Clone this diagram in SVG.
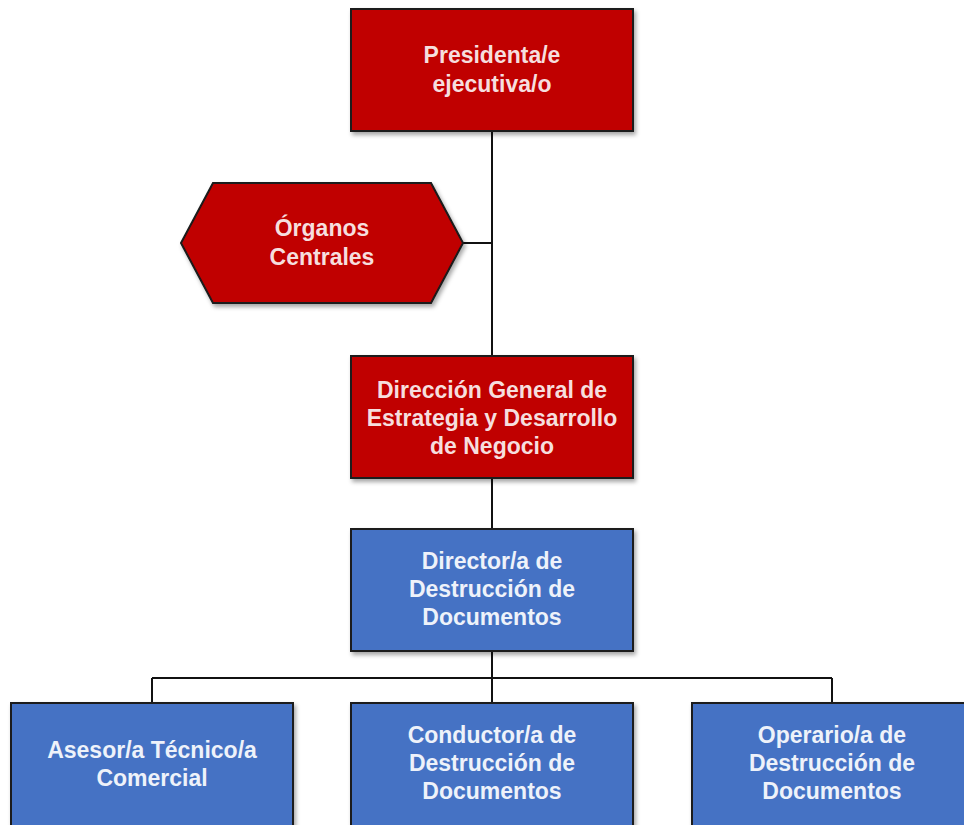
<svg xmlns="http://www.w3.org/2000/svg" width="964" height="825" viewBox="0 0 964 825">
<defs>
<filter id="sh" x="-10%" y="-10%" width="125%" height="130%">
<feDropShadow dx="2" dy="3" stdDeviation="2" flood-color="#000" flood-opacity="0.35"/>
</filter>
</defs>
<style>
.red{fill:#C00000;stroke:#1a1a1a;stroke-width:2;filter:url(#sh)}
.blue{fill:#4472C4;stroke:#1a1a1a;stroke-width:2;filter:url(#sh)}
.t{font-family:"Liberation Sans",Arial,sans-serif;font-size:23px;font-weight:bold;text-anchor:middle;dominant-baseline:central}
.tr{fill:#F6DEDE}
.tb{fill:#EEF2FA}
.c{fill:none;stroke:#111;stroke-width:2}
</style>
<rect width="964" height="825" fill="#fff"/>
<g id="connectors">
<path class="c" d="M492 131V356M463 243H492M492 478V529M492 651V703M152 678H832M152 678V703M832 678V703"/>
</g>
<g id="presidenta">
<rect class="red" x="351" y="9" width="282" height="122"/>
<text class="t tr" x="492" y="55">Presidenta/e</text>
<text class="t tr" x="492" y="84">ejecutiva/o</text>
</g>
<g id="organos">
<polygon class="red" points="181,243 213,183 431,183 463,243 431,303 213,303"/>
<text class="t tr" x="322" y="228">Órganos</text>
<text class="t tr" x="322" y="257">Centrales</text>
</g>
<g id="direccion">
<rect class="red" x="351" y="356" width="282" height="122"/>
<text class="t tr" x="492" y="390">Dirección General de</text>
<text class="t tr" x="492" y="418">Estrategia y Desarrollo</text>
<text class="t tr" x="492" y="446">de Negocio</text>
</g>
<g id="director">
<rect class="blue" x="351" y="529" width="282" height="122"/>
<text class="t tb" x="492" y="561">Director/a de</text>
<text class="t tb" x="492" y="589">Destrucción de</text>
<text class="t tb" x="492" y="617">Documentos</text>
</g>
<g id="asesor">
<rect class="blue" x="11" y="703" width="282" height="130"/>
<text class="t tb" x="152" y="750">Asesor/a Técnico/a</text>
<text class="t tb" x="152" y="778">Comercial</text>
</g>
<g id="conductor">
<rect class="blue" x="351" y="703" width="282" height="130"/>
<text class="t tb" x="492" y="735">Conductor/a de</text>
<text class="t tb" x="492" y="763">Destrucción de</text>
<text class="t tb" x="492" y="791">Documentos</text>
</g>
<g id="operario">
<rect class="blue" x="692" y="703" width="290" height="130"/>
<text class="t tb" x="832" y="735">Operario/a de</text>
<text class="t tb" x="832" y="763">Destrucción de</text>
<text class="t tb" x="832" y="791">Documentos</text>
</g>
</svg>
